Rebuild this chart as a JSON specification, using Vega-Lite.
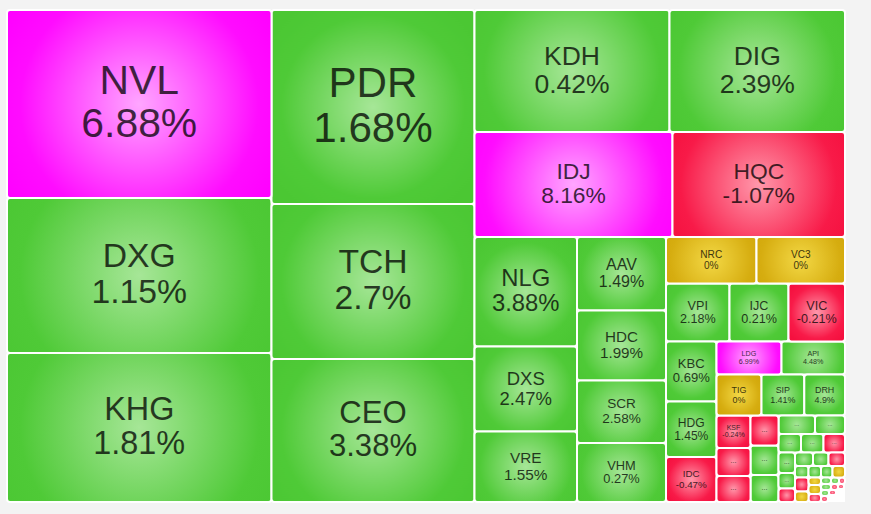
{
  "$schema": "https://vega.github.io/schema/vega-lite/v6.json",
  "width": 838,
  "height": 492,
  "padding": {"left": 7, "top": 10, "right": 26, "bottom": 12},
  "autosize": {"type": "none"},
  "background": "#f3f3f3",
  "config": {"view": {"stroke": null, "fill": "#ffffff"}},
  "data": {
    "values": [
      {"t": "NVL", "p": 6.88, "c": "ceil", "x0": 7, "x1": 271.5, "y0": 10, "y1": 198},
      {"t": "DXG", "p": 1.15, "c": "up", "x0": 7, "x1": 271.5, "y0": 198, "y1": 353},
      {"t": "KHG", "p": 1.81, "c": "up", "x0": 7, "x1": 271.5, "y0": 353, "y1": 502},
      {"t": "PDR", "p": 1.68, "c": "up", "x0": 271.5, "x1": 474.5, "y0": 10, "y1": 204},
      {"t": "TCH", "p": 2.7, "c": "up", "x0": 271.5, "x1": 474.5, "y0": 204, "y1": 359},
      {"t": "CEO", "p": 3.38, "c": "up", "x0": 271.5, "x1": 474.5, "y0": 359, "y1": 502},
      {"t": "KDH", "p": 0.42, "c": "up", "x0": 474.5, "x1": 669.5, "y0": 10, "y1": 132},
      {"t": "DIG", "p": 2.39, "c": "up", "x0": 669.5, "x1": 845, "y0": 10, "y1": 132},
      {"t": "IDJ", "p": 8.16, "c": "ceil", "x0": 474.5, "x1": 672.5, "y0": 132, "y1": 237},
      {"t": "HQC", "p": -1.07, "c": "down", "x0": 672.5, "x1": 845, "y0": 132, "y1": 237},
      {"t": "NLG", "p": 3.88, "c": "up", "x0": 474.5, "x1": 577, "y0": 237, "y1": 346.5},
      {"t": "DXS", "p": 2.47, "c": "up", "x0": 474.5, "x1": 577, "y0": 346.5, "y1": 431.5},
      {"t": "VRE", "p": 1.55, "c": "up", "x0": 474.5, "x1": 577, "y0": 431.5, "y1": 502},
      {"t": "AAV", "p": 1.49, "c": "up", "x0": 577, "x1": 666, "y0": 237, "y1": 310.5},
      {"t": "HDC", "p": 1.99, "c": "up", "x0": 577, "x1": 666, "y0": 310.5, "y1": 380.5},
      {"t": "SCR", "p": 2.58, "c": "up", "x0": 577, "x1": 666, "y0": 380.5, "y1": 443},
      {"t": "VHM", "p": 0.27, "c": "up", "x0": 577, "x1": 666, "y0": 443, "y1": 502},
      {"t": "NRC", "p": 0, "c": "ref", "x0": 666, "x1": 756.5, "y0": 237, "y1": 283.5},
      {"t": "VC3", "p": 0, "c": "ref", "x0": 756.5, "x1": 845, "y0": 237, "y1": 283.5},
      {"t": "VPI", "p": 2.18, "c": "up", "x0": 666, "x1": 729.5, "y0": 283.5, "y1": 341.5},
      {"t": "IJC", "p": 0.21, "c": "up", "x0": 729.5, "x1": 788.5, "y0": 283.5, "y1": 341.5},
      {"t": "VIC", "p": -0.21, "c": "down", "x0": 788.5, "x1": 845, "y0": 283.5, "y1": 341.5},
      {"t": "KBC", "p": 0.69, "c": "up", "x0": 666, "x1": 716.5, "y0": 341.5, "y1": 401.5},
      {"t": "HDG", "p": 1.45, "c": "up", "x0": 666, "x1": 716.5, "y0": 401.5, "y1": 457},
      {"t": "IDC", "p": -0.47, "c": "down", "x0": 666, "x1": 716.5, "y0": 457, "y1": 502},
      {"t": "LDG", "p": 6.99, "c": "ceil", "x0": 716.5, "x1": 781.3, "y0": 341.5, "y1": 374.5},
      {"t": "API", "p": 4.48, "c": "up", "x0": 781.3, "x1": 845, "y0": 341.5, "y1": 374.5},
      {"t": "TIG", "p": 0, "c": "ref", "x0": 716.5, "x1": 761.3, "y0": 374.5, "y1": 415.5},
      {"t": "SIP", "p": 1.41, "c": "up", "x0": 761.3, "x1": 804.3, "y0": 374.5, "y1": 415.5},
      {"t": "DRH", "p": 4.9, "c": "up", "x0": 804.3, "x1": 845, "y0": 374.5, "y1": 415.5},
      {"t": "KSF", "p": -0.24, "c": "down", "x0": 716.5, "x1": 750.5, "y0": 415.5, "y1": 448},
      {"t": "...", "c": "down", "x0": 716.5, "x1": 750.5, "y0": 448, "y1": 476},
      {"t": "...", "c": "down", "x0": 716.5, "x1": 750.5, "y0": 476, "y1": 502},
      {"t": "...", "c": "down", "x0": 750.5, "x1": 778.5, "y0": 415.5, "y1": 445.5},
      {"t": "...", "c": "up", "x0": 750.5, "x1": 778.5, "y0": 445.5, "y1": 475},
      {"t": "...", "c": "up", "x0": 750.5, "x1": 778.5, "y0": 475, "y1": 502},
      {"t": "...", "c": "up", "x0": 778.5, "x1": 815, "y0": 415.5, "y1": 434},
      {"t": "...", "c": "up", "x0": 815, "x1": 845, "y0": 415.5, "y1": 434},
      {"t": "...", "c": "up", "x0": 778.5, "x1": 801, "y0": 434, "y1": 452.5},
      {"t": "...", "c": "up", "x0": 801, "x1": 823.5, "y0": 434, "y1": 452.5},
      {"t": "...", "c": "down", "x0": 823.5, "x1": 845, "y0": 434, "y1": 452.5},
      {"t": "...", "c": "up", "x0": 778.5, "x1": 795, "y0": 452.5, "y1": 473},
      {"t": "...", "c": "up", "x0": 778.5, "x1": 795, "y0": 473, "y1": 488.5},
      {"t": "...", "c": "down", "x0": 778.5, "x1": 795, "y0": 488.5, "y1": 502},
      {"t": "...", "c": "up", "x0": 795, "x1": 813, "y0": 452.5, "y1": 466},
      {"t": "...", "c": "up", "x0": 813, "x1": 828.5, "y0": 452.5, "y1": 466},
      {"t": "...", "c": "down", "x0": 828.5, "x1": 845, "y0": 452.5, "y1": 466},
      {"t": "...", "c": "up", "x0": 795, "x1": 808.5, "y0": 466, "y1": 477.5},
      {"t": "...", "c": "up", "x0": 808.5, "x1": 821, "y0": 466, "y1": 477.5},
      {"t": "...", "c": "up", "x0": 821, "x1": 832.5, "y0": 466, "y1": 477.5},
      {"t": "...", "c": "ref", "x0": 832.5, "x1": 845, "y0": 466, "y1": 477.5},
      {"t": "...", "c": "down", "x0": 795, "x1": 808.5, "y0": 477.5, "y1": 491.5},
      {"t": "...", "c": "ref", "x0": 795, "x1": 808.5, "y0": 491.5, "y1": 502},
      {"t": "...", "c": "ref", "x0": 808.5, "x1": 821, "y0": 477.5, "y1": 485},
      {"t": "...", "c": "ref", "x0": 808.5, "x1": 821, "y0": 485, "y1": 494},
      {"t": "...", "c": "down", "x0": 808.5, "x1": 821, "y0": 494, "y1": 502},
      {"t": "...", "c": "up", "x0": 821, "x1": 831, "y0": 477.5, "y1": 484},
      {"t": "...", "c": "up", "x0": 831, "x1": 839, "y0": 477.5, "y1": 484},
      {"t": "...", "c": "down", "x0": 839, "x1": 845, "y0": 477.5, "y1": 484},
      {"t": "...", "c": "up", "x0": 821, "x1": 831, "y0": 484, "y1": 490},
      {"t": "...", "c": "down", "x0": 831, "x1": 838, "y0": 484, "y1": 490},
      {"t": "...", "c": "down", "x0": 838, "x1": 844, "y0": 484, "y1": 489},
      {"t": "...", "c": "up", "x0": 821, "x1": 829, "y0": 490, "y1": 496},
      {"t": "...", "c": "down", "x0": 829, "x1": 836, "y0": 490, "y1": 495},
      {"t": "...", "c": "down", "x0": 821, "x1": 828, "y0": 496, "y1": 502}
    ]
  },
  "transform": [
    {"calculate": "datum.x1 - datum.x0", "as": "w"},
    {"calculate": "datum.y1 - datum.y0", "as": "h"},
    {"calculate": "(datum.x0 + datum.x1) / 2", "as": "cx"},
    {"calculate": "(datum.y0 + datum.y1) / 2", "as": "cy"},
    {"calculate": "isValid(datum.p) ? datum.p + '%' : ''", "as": "pl"},
    {"calculate": "isValid(datum.p) ? min(datum.h / 4.6, datum.w / 3.3) : min(7, datum.h / 3)", "as": "fs"},
    {"calculate": "isValid(datum.p) ? datum.cy - 0.54 * datum.fs : datum.cy - 1", "as": "ty"},
    {"calculate": "datum.cy + 0.52 * datum.fs", "as": "py"}
  ],
  "encoding": {
    "x": {"field": "x0", "type": "quantitative", "scale": {"domain": [7, 845], "nice": false, "zero": false}, "axis": null},
    "y": {"field": "y0", "type": "quantitative", "scale": {"domain": [10, 502], "reverse": true, "nice": false, "zero": false}, "axis": null}
  },
  "layer": [
    {
      "transform": [{"filter": "datum.c == 'up'"}],
      "mark": {"type": "rect", "stroke": "#ffffff", "strokeWidth": 2, "cornerRadius": 3,
        "fill": {"gradient": "radial", "x1": 0.5, "y1": 0.5, "r1": 0, "x2": 0.5, "y2": 0.5, "r2": 0.6,
          "stops": [{"offset": 0, "color": "#a6e697"}, {"offset": 0.75, "color": "#4fca37"}, {"offset": 1, "color": "#4bc733"}]}},
      "encoding": {"x2": {"field": "x1"}, "y2": {"field": "y1"}}
    },
    {
      "transform": [{"filter": "datum.c == 'ceil'"}],
      "mark": {"type": "rect", "stroke": "#ffffff", "strokeWidth": 2, "cornerRadius": 3,
        "fill": {"gradient": "radial", "x1": 0.5, "y1": 0.5, "r1": 0, "x2": 0.5, "y2": 0.5, "r2": 0.6,
          "stops": [{"offset": 0, "color": "#ffa6ff"}, {"offset": 0.75, "color": "#ff0cff"}, {"offset": 1, "color": "#ff00ff"}]}},
      "encoding": {"x2": {"field": "x1"}, "y2": {"field": "y1"}}
    },
    {
      "transform": [{"filter": "datum.c == 'down'"}],
      "mark": {"type": "rect", "stroke": "#ffffff", "strokeWidth": 2, "cornerRadius": 3,
        "fill": {"gradient": "radial", "x1": 0.5, "y1": 0.5, "r1": 0, "x2": 0.5, "y2": 0.5, "r2": 0.6,
          "stops": [{"offset": 0, "color": "#ff98ab"}, {"offset": 0.75, "color": "#f81a48"}, {"offset": 1, "color": "#f5103f"}]}},
      "encoding": {"x2": {"field": "x1"}, "y2": {"field": "y1"}}
    },
    {
      "transform": [{"filter": "datum.c == 'ref'"}],
      "mark": {"type": "rect", "stroke": "#ffffff", "strokeWidth": 2, "cornerRadius": 3,
        "fill": {"gradient": "radial", "x1": 0.5, "y1": 0.5, "r1": 0, "x2": 0.5, "y2": 0.5, "r2": 0.6,
          "stops": [{"offset": 0, "color": "#f3d845"}, {"offset": 0.75, "color": "#d6ad10"}, {"offset": 1, "color": "#d1a70a"}]}},
      "encoding": {"x2": {"field": "x1"}, "y2": {"field": "y1"}}
    },
    {
      "transform": [{"filter": "datum.h >= 14 && datum.w >= 14"}],
      "mark": {"type": "text", "align": "center", "baseline": "middle", "font": "Liberation Sans", "color": "#000000", "opacity": 0.75},
      "encoding": {
        "x": {"field": "cx", "type": "quantitative"},
        "y": {"field": "ty", "type": "quantitative"},
        "text": {"field": "t"},
        "size": {"field": "fs", "type": "quantitative", "scale": null}
      }
    },
    {
      "transform": [{"filter": "isValid(datum.p)"}],
      "mark": {"type": "text", "align": "center", "baseline": "middle", "font": "Liberation Sans", "color": "#000000", "opacity": 0.75},
      "encoding": {
        "x": {"field": "cx", "type": "quantitative"},
        "y": {"field": "py", "type": "quantitative"},
        "text": {"field": "pl"},
        "size": {"field": "fs", "type": "quantitative", "scale": null}
      }
    }
  ]
}
